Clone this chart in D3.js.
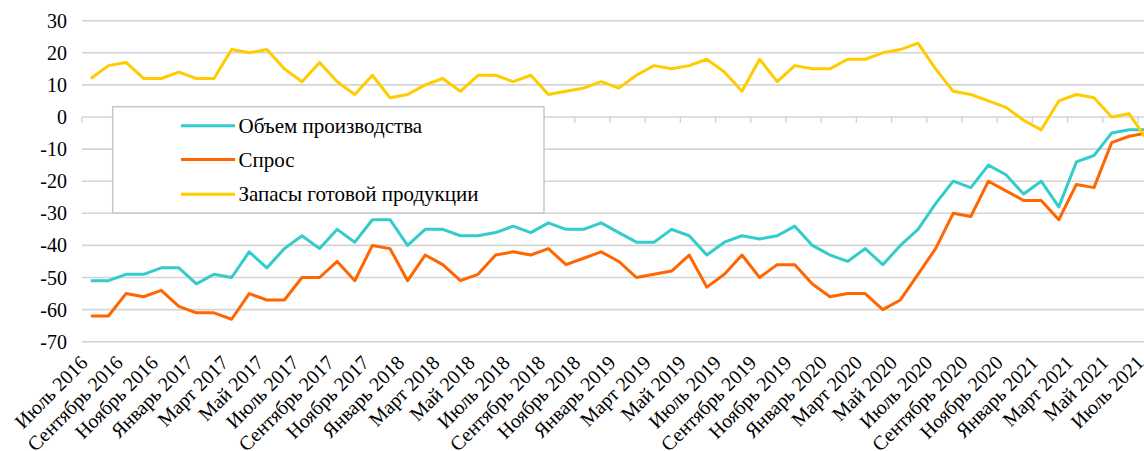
<!DOCTYPE html>
<html>
<head>
<meta charset="utf-8">
<script src="https://cdn.jsdelivr.net/npm/d3@7"></script>
</head>
<body style="margin:0">
<svg id="chart" width="1144" height="451"></svg>
<script>
// Месяцы наблюдений: июль 2016 — июль 2021
const monthNames = ["Январь","Февраль","Март","Апрель","Май","Июнь","Июль","Август","Сентябрь","Октябрь","Ноябрь","Декабрь"];
const months = [];
for (let yr = 2016, m = 6; yr < 2021 || (yr === 2021 && m <= 6); m++) {
  if (m === 12) { m = 0; yr++; }
  months.push(monthNames[m] + " " + yr);
}

// Объем производства
const output = [-51,-51,-49,-49,-47,-47,-52,-49,-50,-42,-47,-41,-37,-41,-35,-39,-32,-32,
  -40,-35,-35,-37,-37,-36,-34,-36,-33,-35,-35,-33,-36,-39,-39,-35,-37,-43,-39,-37,-38,-37,
  -34,-40,-43,-45,-41,-46,-40,-35,-27,-20,-22,-15,-18,-24,-20,-28,-14,-12,-5,-4,-4];
// Спрос
const demand = [-62,-62,-55,-56,-54,-59,-61,-61,-63,-55,-57,-57,-50,-50,-45,-51,-40,-41,
  -51,-43,-46,-51,-49,-43,-42,-43,-41,-46,-44,-42,-45,-50,-49,-48,-43,-53,-49,-43,-50,-46,
  -46,-52,-56,-55,-55,-60,-57,-49,-41,-30,-31,-20,-23,-26,-26,-32,-21,-22,-8,-6,-5];
// Запасы готовой продукции
const stocks = [12,16,17,12,12,14,12,12,21,20,21,15,11,17,11,7,13,6,
  7,10,12,8,13,13,11,13,7,8,9,11,9,13,16,15,16,18,14,8,18,11,
  16,15,15,18,18,20,21,23,15,8,7,5,3,-1,-4,5,7,6,0,1,-7];

const seriesNames = ["Объем производства", "Спрос", "Запасы готовой продукции"];
const seriesColors = ["#33CCCC", "#FF6600", "#FFCC00"];
const yTicks = [30, 20, 10, 0, -10, -20, -30, -40, -50, -60, -70];
const FONT = "Liberation Serif";

const svg = d3.select("#chart");
const left = 82, step = 17.6;
const x = d3.scaleBand().domain(months).range([left, left + months.length * step]).padding(0);
const y = d3.scaleLinear().domain([-70, 30]).range([341.7, 20.7]);
const xc = d => x(d) + x.bandwidth() / 2;

// Шрифт подписей: атрибут и встроенный стиль
function serif(sel, size) {
  return sel.attr("font-family", FONT).attr("font-size", size)
    .style("font-family", FONT).style("font-size", size + "px")
    .attr("fill", "#000");
}

// Горизонтальная сетка
svg.append("g").selectAll("line").data(yTicks.filter(v => v !== 0)).join("line")
  .attr("x1", left).attr("x2", 1160)
  .attr("y1", d => y(d)).attr("y2", d => y(d))
  .attr("stroke", "#d4d4d4").attr("stroke-width", 1.6);

// Ось категорий на уровне нуля с делениями через два месяца
const axisG = svg.append("g");
axisG.append("line").attr("x1", left).attr("x2", 1160)
  .attr("y1", y(0)).attr("y2", y(0)).attr("stroke", "#d4d4d4").attr("stroke-width", 1.6);
axisG.selectAll("line.tick").data(months.filter((d, i) => i % 2 === 0)).join("line")
  .attr("class", "tick")
  .attr("x1", d => x(d)).attr("x2", d => x(d))
  .attr("y1", y(0)).attr("y2", y(0) + 6)
  .attr("stroke", "#d4d4d4").attr("stroke-width", 1.4);

// Подписи значений
serif(svg.append("g").selectAll("text").data(yTicks).join("text"), 20)
  .attr("x", 67).attr("y", d => y(d) + 7)
  .attr("text-anchor", "end")
  .text(d => d);

// Подписи месяцев, повернутые на 45°
serif(svg.append("g").selectAll("text").data(months.filter((d, i) => i % 2 === 0)).join("text"), 20)
  .attr("transform", d => `translate(${xc(d) - 2},${364}) rotate(-45)`)
  .attr("text-anchor", "end")
  .text(d => d);

// Линии рядов
const line = d3.line().x((d, i) => xc(months[i])).y(d => y(d));
[output, demand, stocks].forEach((s, k) => {
  svg.append("path").datum(s)
    .attr("fill", "none").attr("stroke", seriesColors[k])
    .attr("stroke-width", 3).attr("stroke-linejoin", "round")
    .attr("d", line);
});

// Легенда
const lg = svg.append("g");
lg.append("rect").attr("x", 112.7).attr("y", 106.7).attr("width", 431.3).attr("height", 106.3)
  .attr("fill", "#fff").attr("stroke", "#c8c8c8").attr("stroke-width", 1.5);
const legendY = [125.7, 159.5, 194.3];
seriesNames.forEach((name, k) => {
  lg.append("line").attr("x1", 181).attr("x2", 235)
    .attr("y1", legendY[k]).attr("y2", legendY[k])
    .attr("stroke", seriesColors[k]).attr("stroke-width", 3);
  serif(lg.append("text"), 21)
    .attr("x", 238.5).attr("y", legendY[k] + 7)
    .text(name);
});
</script>
</body>
</html>
